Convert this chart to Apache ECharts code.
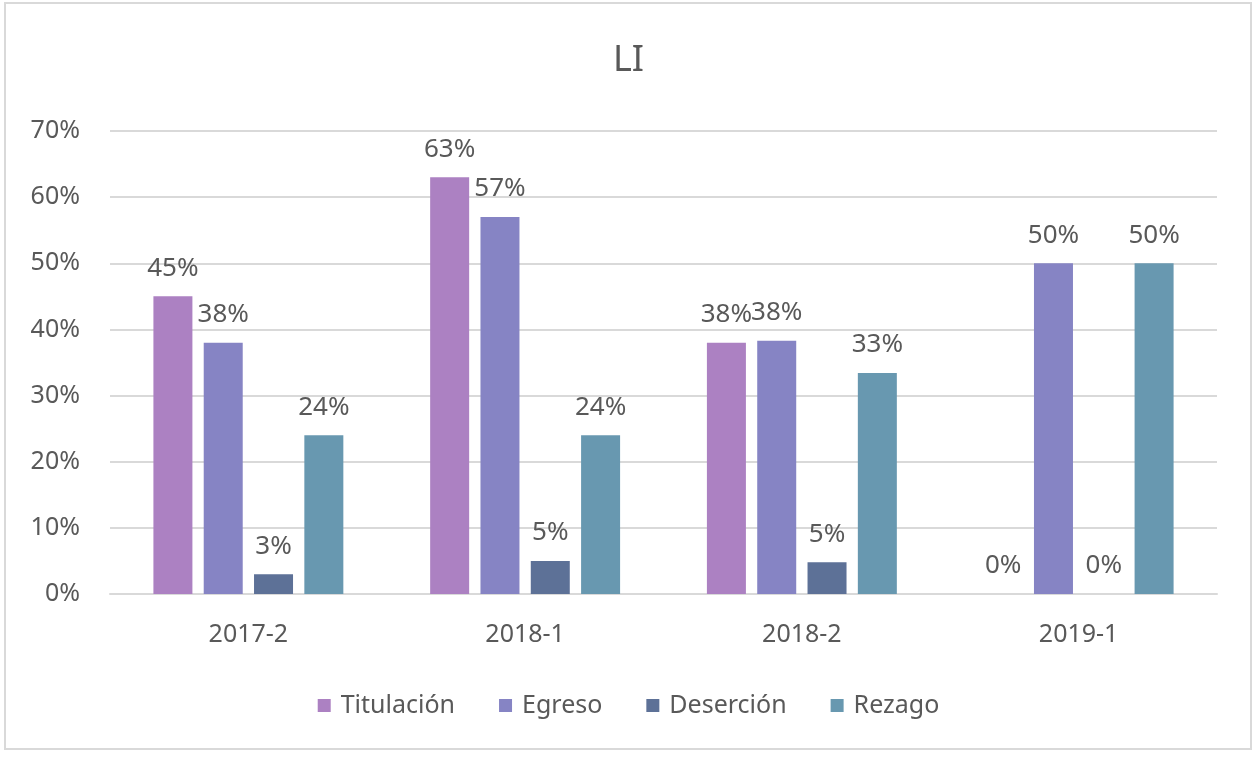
<!DOCTYPE html>
<html><head><meta charset="utf-8">
<script src="https://cdn.jsdelivr.net/npm/echarts@6/dist/echarts.min.js"></script>
<style>html,body{margin:0;padding:0;background:#fff;}#c{width:1257px;height:757px;}</style>
</head><body><div id="c"></div>
<script>
const categories = ['2017-2', '2018-1', '2018-2', '2019-1'];
const titulacion = [0.45, 0.63, 0.38, 0];
const egreso = [0.38, 0.57, 0.383, 0.50];
const desercion = [0.03, 0.05, 0.048, 0];
const rezago = [0.24, 0.24, 0.334, 0.50];
const seriesNames = ['Titulación', 'Egreso', 'Deserción', 'Rezago'];
const colors = ['#AC81C2', '#8684C4', '#5D7197', '#6898B0'];
const yTicks = [0, 0.1, 0.2, 0.3, 0.4, 0.5, 0.6, 0.7];

const FONT = 'Noto Sans';
const chart = echarts.init(document.getElementById('c'));
const mk = (name, data, i) => ({
  name, type: 'bar', data, barWidth: 39, barGap: '29%',
  itemStyle: { color: colors[i] },
  label: { show: true, position: 'top', distance: 15, color: '#595959', fontSize: 26, fontFamily: FONT,
    formatter: p => Math.round(p.value * 100) + '%' }
});
chart.setOption({
  animation: false,
  backgroundColor: '#fff',
  title: { text: 'LI', left: 'center', top: 38, textStyle: { color: '#595959', fontSize: 36, fontWeight: 'normal', fontFamily: FONT } },
  legend: { bottom: 34, left: 'center', itemWidth: 13, itemHeight: 13, itemGap: 44, icon: 'rect',
    textStyle: { color: '#595959', fontSize: 25, fontFamily: FONT, padding: [0, 0, 0, 5] } },
  grid: { left: 110, right: 40, top: 131, bottom: 163 },
  xAxis: { type: 'category', data: categories,
    axisLine: { lineStyle: { color: '#D9D9D9', width: 2 } }, axisTick: { show: false },
    axisLabel: { color: '#595959', fontSize: 25, fontFamily: FONT, margin: 28 } },
  yAxis: { type: 'value', min: yTicks[0], max: yTicks[yTicks.length - 1], interval: 0.1,
    axisLine: { show: false }, axisTick: { show: false },
    splitLine: { lineStyle: { color: '#D9D9D9', width: 2 } },
    axisLabel: { color: '#595959', fontSize: 25, fontFamily: FONT, margin: 30,
      formatter: v => Math.round(v * 100) + '%' } },
  graphic: [{ type: 'rect', shape: { x: 5, y: 3, width: 1246, height: 746 }, style: { fill: 'none', stroke: '#D9D9D9', lineWidth: 2 }, silent: true }],
  series: [mk(seriesNames[0], titulacion, 0), mk(seriesNames[1], egreso, 1), mk(seriesNames[2], desercion, 2), mk(seriesNames[3], rezago, 3)]
});
</script></body></html>
